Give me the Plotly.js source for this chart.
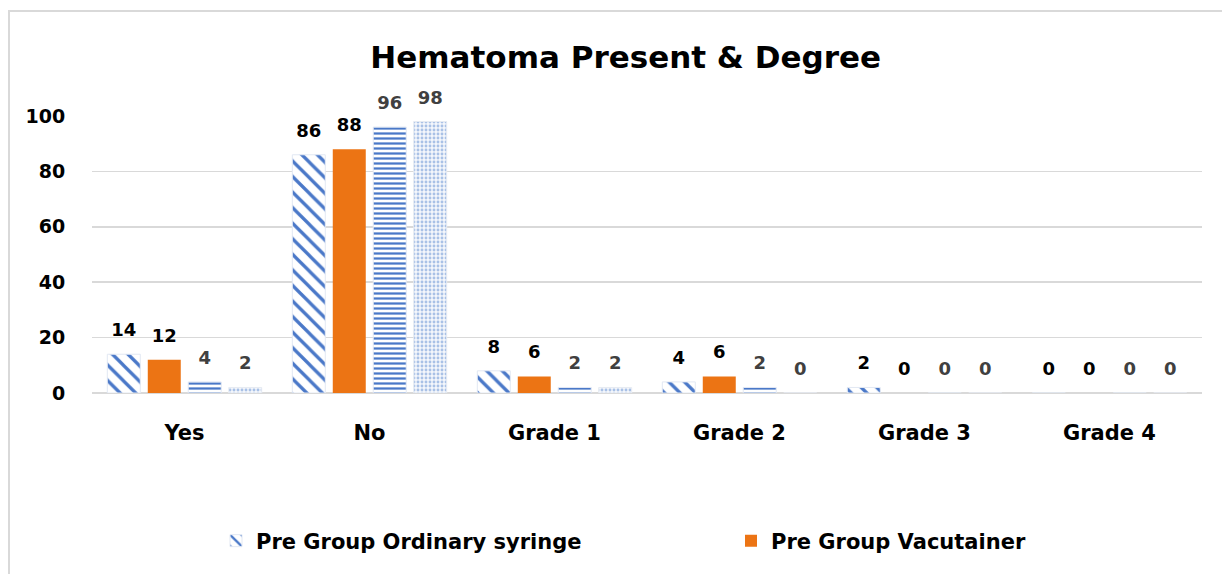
<!DOCTYPE html>
<html>
<head>
<meta charset="utf-8">
<script src="https://cdn.plot.ly/plotly-3.0.1.min.js"></script>
<style>
html,body{margin:0;padding:0;background:#fff;}
#wrap{position:relative;width:1222px;height:574px;}
#chart{width:1222px;height:574px;}
#frame{position:absolute;left:8px;top:10px;width:1214px;height:564px;border-left:2px solid #d9d9d9;border-top:2px solid #d9d9d9;box-sizing:border-box;pointer-events:none;}
</style>
</head>
<body>
<div id="wrap"><div id="chart"></div><div id="frame"></div></div>
<script>
const categories = ["Yes", "No", "Grade 1", "Grade 2", "Grade 3", "Grade 4"];
const preSyringe = [14, 86, 8, 4, 2, 0];
const preVacutainer = [12, 88, 6, 6, 0, 0];
const postSyringe = [4, 96, 2, 2, 0, 0];
const postVacutainer = [2, 98, 2, 0, 0, 0];
const seriesNames = ["Pre Group Ordinary syringe", "Pre Group Vacutainer", "Post Group Ordinary syringe", "Post Group Vacutainer"];
const yTicks = [0, 20, 40, 60, 80, 100];

const FONT = "'DejaVu Sans', sans-serif";
const labelColors = ['#000000', '#000000', '#404040', '#404040'];
const allSeries = [preSyringe, preVacutainer, postSyringe, postVacutainer];

const barMarkers = [
  {color: '#ffffff', line: {color: '#e2e8f3', width: 1},
    pattern: {shape: '\\', fgcolor: '#4a78c8', bgcolor: '#ffffff', size: 11, solidity: 0.3}},
  {color: '#ec7414', line: {width: 0}},
  {color: '#ffffff', line: {color: '#e2e8f3', width: 1},
    pattern: {shape: '-', fgcolor: '#4a78c8', bgcolor: '#ffffff', size: 5, solidity: 0.45}},
  {color: '#ffffff', line: {color: '#e6ebf2', width: 1},
    pattern: {shape: '.', fgcolor: '#a9c1e6', bgcolor: '#f4f7fc', size: 4, solidity: 0.4}}
];

const traces = [];
allSeries.forEach((vals, i) => {
  traces.push({
    type: 'bar', name: seriesNames[i], x: categories, y: vals,
    marker: barMarkers[i],
    showlegend: i < 2, legend: i === 1 ? 'legend2' : 'legend'
  });
});
allSeries.forEach((vals, i) => {
  traces.push({
    type: 'scatter', mode: 'markers+text', name: seriesNames[i] + ' labels',
    x: categories, y: vals, showlegend: false,
    marker: {size: 20, opacity: 0},
    text: vals.map(String), textposition: 'top center',
    textfont: {family: FONT, size: 18, weight: 700, color: labelColors[i]},
    cliponaxis: false, hoverinfo: 'skip'
  });
});

const legendBase = {
  orientation: 'h', xref: 'container', yref: 'container',
  xanchor: 'left', y: 1 - 541/574, yanchor: 'middle',
  font: {family: FONT, size: 21, weight: 700, color: '#000000'},
  itemwidth: 30, bgcolor: 'rgba(0,0,0,0)'
};

const layout = {
  width: 1222, height: 574,
  paper_bgcolor: '#ffffff', plot_bgcolor: '#ffffff',
  margin: {l: 92, r: 20, t: 116, b: 181},
  font: {family: FONT, color: '#000000'},
  title: {text: 'Hematoma Present & Degree', font: {family: FONT, size: 31, weight: 700, color: '#000000'},
    x: 0.512, xanchor: 'center', y: 1 - 57/574, yanchor: 'middle', xref: 'container', yref: 'container'},
  barmode: 'group', bargap: 0.125, bargroupgap: 0.185,
  scattermode: 'group', scattergap: 0.125,
  xaxis: {
    type: 'category', tickvals: categories, showgrid: false, zeroline: false,
    showline: false, ticks: 'outside', ticklen: 21, tickcolor: 'rgba(0,0,0,0)',
    tickfont: {family: FONT, size: 21, weight: 700, color: '#000000'}
  },
  yaxis: {
    range: [0, 100], tickvals: yTicks, ticktext: yTicks.map(String),
    showgrid: true, gridcolor: '#d9d9d9', gridwidth: 1.5,
    zeroline: true, zerolinecolor: '#d9d9d9', zerolinewidth: 1.5,
    showline: false, ticks: 'outside', ticklen: 22, tickcolor: 'rgba(0,0,0,0)',
    tickfont: {family: FONT, size: 19, weight: 700, color: '#000000'}
  },
  showlegend: true,
  legend: Object.assign({}, legendBase, {x: 216/1222}),
  legend2: Object.assign({}, legendBase, {x: 731/1222})
};

Plotly.newPlot('chart', traces, layout, {displayModeBar: false, staticPlot: true});
</script>
</body>
</html>
